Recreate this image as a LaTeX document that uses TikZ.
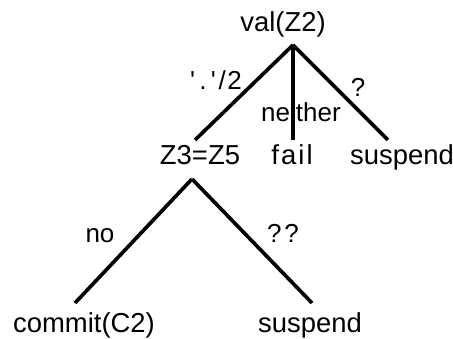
\documentclass[tikz,border=0pt]{standalone}
\usepackage{fontspec}
\setmainfont{Liberation Sans}
\usepackage{tikz}
\usetikzlibrary{calc}

\begin{document}
\begin{tikzpicture}[
  x=0.025cm,y=0.025cm,
  termo/.style={anchor=base,inner sep=0pt,font=\fontsize{19.5}{22}\selectfont},
  rotulo/.style={anchor=base,inner sep=0pt,font=\fontsize{18.5}{22}\selectfont},
  ramo/.style={line width=2.6pt,black}
]
  \useasboundingbox (0,0) rectangle (453,339);

  \node[termo] (val) at (283,307) {val(Z2)};
  \node[termo] (z3) at (200,174) {Z3=Z5};
  \node[termo] (fail) at (292,174) {f\kern1.5pt a\kern1.5pt i\kern1.5pt l};
  \node[termo] (susp1) at (402,174) {suspend};
  \node[termo] (commit) at (84,6) {commit(C2)};
  \node[termo] (susp2) at (310,6) {suspend};

  \node[rotulo] (cons) at (216,249) {\textquotesingle\kern3pt.\kern3pt\textquotesingle\kern2pt/\kern1pt2};
  \node[rotulo] (neither) at (301,217) {neither};
  \node[rotulo] (q) at (358,242) {?};
  \node[rotulo] (no) at (100,96) {no};
  \node[rotulo] (qq) at (283,96) {?\kern2pt?};

  \coordinate (topo1) at ($(val.base)+(10,-13)$);
  \coordinate (topo2) at ($(z3.base)+(-8,-14)$);
  \draw[ramo] (topo1) -- ($(z3.base)+(-5,25)$);
  \draw[ramo] (topo1) -- ($(fail.base)+(1,25)$);
  \draw[ramo] (topo1) -- ($(susp1.base)+(-14,25)$);
  \draw[ramo] (topo2) -- ($(commit.base)+(-9,30)$);
  \draw[ramo] (topo2) -- ($(susp2.base)+(2,30)$);
\end{tikzpicture}
\end{document}
